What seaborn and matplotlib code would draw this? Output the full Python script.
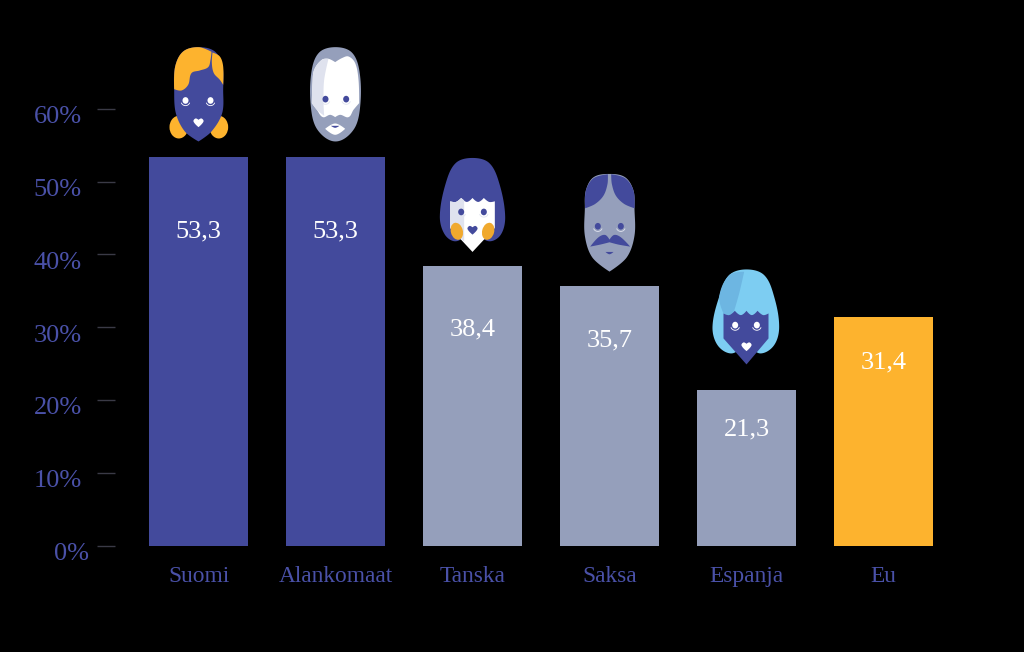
import numpy as np
import matplotlib
matplotlib.use('Agg')
import matplotlib.pyplot as plt
import seaborn as sns
from matplotlib.patches import Polygon, Ellipse, Arc
from matplotlib.transforms import ScaledTranslation

sns.set_theme(style='dark', rc={'axes.facecolor': 'black', 'figure.facecolor': 'black'})
plt.rcParams['font.family'] = ['Liberation Serif', 'DejaVu Serif']

countries = ['Suomi', 'Alankomaat', 'Tanska', 'Saksa', 'Espanja', 'Eu']
shares = [53.3, 53.3, 38.4, 35.7, 21.3, 31.4]
y_ticks = [0, 10, 20, 30, 40, 50, 60]

BLUE = '#434A9C'
TEXT = '#4A51A8'
GREY = '#959FBB'
YELLOW = '#FDB32E'
LIGHT = '#7DCDF2'
PALE = '#DFE2EE'
bar_colors = [BLUE, BLUE, GREY, GREY, GREY, YELLOW]

fig = plt.figure(figsize=(10.24, 6.52), dpi=100)
ax = fig.add_axes([115 / 1024, 106.5 / 652, 845 / 1024, 509.6 / 652])
sns.barplot(x=countries, y=shares, hue=countries, palette=bar_colors, saturation=1,
            width=0.7226, legend=False, linewidth=0, ax=ax)
ax.set_xlim((115 - 198.5) / 137, (960 - 198.5) / 137)
ax.set_ylim(0, 70)
ax.set_yticks(y_ticks, [f'{t}%' for t in y_ticks])
sns.despine(ax=ax, left=True, bottom=True)
ax.grid(False)
ax.tick_params(axis='y', length=13, width=1, color='#3a3a46', pad=11, labelsize=19,
               labelcolor=TEXT, left=True)
ax.tick_params(axis='x', length=0, pad=14.5, labelsize=16.8, labelcolor=TEXT)

# old style numerals sit lower in the original, 0% also hangs further right
for t, label in zip(y_ticks, ax.get_yticklabels()):
    dx = 7 if t == 0 else 0
    label.set_transform(label.get_transform()
                        + ScaledTranslation(dx / 72 * 0.72, -6 / 72 * 0.72, fig.dpi_scale_trans))

# value labels, distance below the bar top differs per bar
label_drop = [74, 74, 64, 55, 39, 46]
for i, v in enumerate(shares):
    ax.annotate(f'{v:.1f}'.replace('.', ','), (i, v), xytext=(0, -label_drop[i] * 0.72),
                textcoords='offset points', ha='center', va='center', color='white', fontsize=19)

# overlay in image pixels for the faces
over = fig.add_axes([0, 0, 1, 1])
over.set_xlim(0, 1024)
over.set_ylim(652, 0)
over.axis('off')
over.patch.set_alpha(0)


def spline(pts, n=14):
    # closed hermite curve through the points, a repeated point makes a sharp corner
    raw = [tuple(q) for q in pts]
    p, corner = [], []
    for q in raw:
        if p and q == p[-1]:
            corner[-1] = True
        else:
            p.append(q)
            corner.append(False)
    p = np.array(p, dtype=float)
    m = len(p)
    dirs = []
    for i in range(m):
        d = p[(i + 1) % m] - p[i - 1]
        dirs.append(np.zeros(2) if corner[i] else d / np.linalg.norm(d))
    out = []
    for i in range(m):
        a, b = p[i], p[(i + 1) % m]
        seg = np.linalg.norm(b - a)
        da, db = dirs[i] * seg, dirs[(i + 1) % m] * seg
        for t in np.linspace(0, 1, n, endpoint=False):
            out.append((2 * t ** 3 - 3 * t ** 2 + 1) * a + (t ** 3 - 2 * t ** 2 + t) * da
                       + (-2 * t ** 3 + 3 * t ** 2) * b + (t ** 3 - t ** 2) * db)
    return np.array(out)


class Face:
    def __init__(self, i, gap, tip, dx=0):
        px = ax.transData.transform((i, shares[i]))
        self.x0 = px[0] + dx
        self.y0 = 652 - px[1] - gap
        self.tip = tip

    def pos(self, pts):
        p = np.array(pts, dtype=float)
        return np.c_[self.x0 + (p[:, 0] - self.tip[0]) / 3, self.y0 + (p[:, 1] - self.tip[1]) / 3]

    def blob(self, pts, color, z=3):
        q = [tuple(r) for r in self.pos(pts)]
        over.add_patch(Polygon(spline(q), closed=True, fc=color, ec='none', zorder=z))

    def oval(self, x, y, w, h, color, z=4, angle=0):
        c = self.pos([(x, y)])[0]
        over.add_patch(Ellipse(c, w / 3, h / 3, angle=angle, fc=color, ec='none', zorder=z))

    def eye(self, x, y, color, smile):
        self.oval(x, y, 18, 20, color, z=6)
        c = self.pos([(x, y + 2)])[0]
        over.add_patch(Arc(c, 9, 9, theta1=20, theta2=160, ec=smile, lw=0.6, zorder=6))

    def heart(self, x, y, color):
        self.blob([(x, y + 15), (x, y + 15), (x - 15, y - 2), (x - 9, y - 11), (x, y - 7), (x, y - 7),
                   (x + 9, y - 11), (x + 15, y - 2)], color, z=7)


# Suomi
f = Face(0, 16, (176, 335))
f.oval(117, 292, 56, 68, YELLOW, z=2)
f.oval(237, 292, 56, 68, YELLOW, z=2)
f.blob([(176, 52), (225, 65), (248, 110), (250, 180), (247, 250), (215, 305), (176, 335), (176, 335),
        (135, 305), (108, 250), (103, 180), (106, 110), (130, 65)], BLUE)
f.blob([(103, 178), (103, 178), (125, 182), (145, 165), (155, 130), (180, 122), (205, 112), (212, 90),
        (215, 66), (215, 66), (176, 52), (130, 65), (106, 110)], YELLOW, z=4)
f.blob([(218, 68), (218, 68), (216, 100), (222, 130), (240, 150), (250, 165), (250, 165), (250, 110),
        (240, 80)], YELLOW, z=4)
f.eye(137, 212, 'white', 'white')
f.eye(212, 212, 'white', 'white')
f.heart(176, 277, 'white')

# Alankomaat
f = Face(1, 16, (586, 335))
f.blob([(586, 52), (635, 68), (658, 125), (660, 230), (640, 300), (586, 335), (532, 300), (512, 230),
        (514, 125), (537, 68)], GREY)
f.blob([(517, 160), (522, 120), (545, 90), (565, 87), (585, 97), (585, 97), (605, 85), (625, 80), (645, 100),
        (655, 150), (657, 220), (657, 220), (640, 240), (625, 262), (600, 255), (585, 262), (585, 262),
        (570, 255), (548, 262), (530, 240), (515, 220), (515, 220)], 'white', z=4)
f.blob([(517, 160), (522, 120), (545, 90), (565, 87), (565, 87), (552, 150), (550, 215), (552, 258), (552, 258),
        (530, 240), (515, 220), (515, 220)], PALE, z=5)
f.blob([(555, 297), (555, 297), (585, 281), (615, 297), (615, 297), (585, 315)], 'white', z=4)
f.blob([(572, 288), (572, 288), (598, 288), (598, 288), (585, 294)], BLUE, z=5)
f.eye(556, 208, BLUE, PALE)
f.eye(618, 208, BLUE, PALE)

# Tanska
f = Face(2, 14, (155, 307))
f.blob([(155, 25), (205, 40), (235, 100), (253, 200), (240, 255), (205, 275), (155, 250), (105, 275),
        (72, 255), (57, 200), (75, 100), (105, 40)], BLUE)
f.blob([(88, 155), (88, 155), (105, 157), (121, 145), (121, 145), (138, 157), (155, 145), (155, 145),
        (172, 157), (189, 145), (189, 145), (205, 157), (222, 155), (222, 155), (222, 235), (222, 235),
        (155, 307), (155, 307), (88, 235), (88, 235)], 'white', z=4)
f.blob([(88, 155), (88, 155), (105, 157), (121, 145), (121, 145), (130, 152), (130, 152), (130, 276), (130, 276),
        (88, 235), (88, 235)], PALE, z=5)
f.oval(108, 245, 36, 52, '#F0A92E', z=6, angle=-15)
f.oval(202, 245, 36, 52, '#F0A92E', z=6, angle=15)
f.eye(121, 187, BLUE, PALE)
f.eye(189, 187, BLUE, PALE)
f.heart(155, 240, BLUE)

# Saksa
f = Face(3, 14, (568, 368))
f.blob([(568, 75), (615, 85), (640, 125), (643, 180), (643, 260), (620, 325), (568, 368), (568, 368),
        (516, 325), (494, 260), (494, 180), (497, 125), (520, 85)], GREY)
f.blob([(563, 76), (563, 76), (562, 105), (550, 140), (525, 165), (495, 178), (495, 178), (497, 125),
        (520, 88)], BLUE, z=4)
f.blob([(573, 76), (573, 76), (575, 105), (587, 140), (612, 165), (643, 178), (643, 178), (640, 125),
        (615, 88)], BLUE, z=4)
f.blob([(510, 293), (510, 293), (535, 265), (555, 258), (568, 272), (568, 272), (582, 258), (602, 265),
        (630, 293), (630, 293), (595, 287), (568, 280), (568, 280), (540, 287)], BLUE, z=4)
f.eye(533, 232, BLUE, PALE)
f.eye(602, 232, BLUE, PALE)
f.blob([(556, 309), (556, 309), (580, 309), (580, 309), (568, 316)], BLUE, z=4)

# Espanja
f = Face(4, 26, (172, 313))
f.blob([(172, 28), (225, 45), (255, 110), (270, 200), (255, 255), (215, 280), (172, 260), (125, 280),
        (85, 255), (70, 200), (90, 110), (120, 45)], LIGHT)
f.blob([(103, 160), (103, 160), (120, 165), (137, 152), (137, 152), (155, 165), (172, 152), (172, 152),
        (188, 165), (205, 152), (205, 152), (222, 165), (238, 160), (238, 160), (238, 235), (238, 235),
        (172, 313), (172, 313), (103, 235), (103, 235)], BLUE, z=4)
f.blob([(103, 160), (103, 160), (120, 165), (135, 152), (135, 152), (150, 100), (165, 35), (165, 35), (120, 45),
        (90, 110)], '#6DB6E2', z=3.5)
f.eye(138, 195, 'white', 'white')
f.eye(203, 195, 'white', 'white')
f.heart(172, 258, 'white')

plt.savefig('out.png', dpi=100, facecolor='black')
plt.close()
